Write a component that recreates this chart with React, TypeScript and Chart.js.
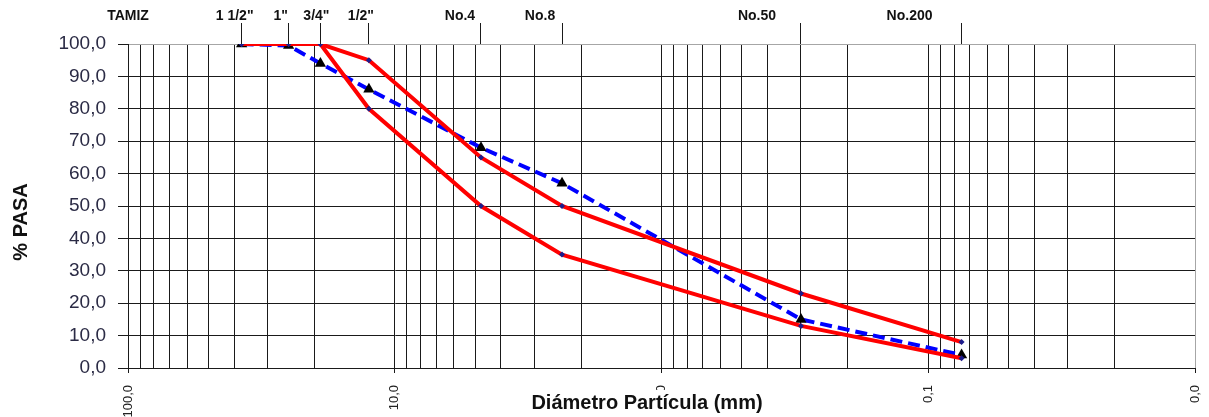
import React, { useEffect, useRef } from 'react';
import { Chart, registerables } from 'chart.js';

Chart.register(...registerables);

// ---- data ----
const SIEVE_NAMES = ['1 1/2"', '1"', '3/4"', '1/2"', 'No.4', 'No.8', 'No.50', 'No.200'];
const SIEVE_MM = [37.5, 25, 19, 12.5, 4.75, 2.36, 0.3, 0.075];
const UPPER_LIMIT = [100, 100, 100, 95, 65, 50, 23, 8];
const LOWER_LIMIT = [100, 100, 100, 80, 50, 35, 13, 3];
const SAMPLE = [100, 99.5, 94, 86, 68, 57, 15, 4];
const X_DECADES = [0.01, 0.1, 1, 10];
const X_MULTIPLIERS = [1, 2, 3, 4, 5, 6, 7, 8, 9];
const X_MAJOR = [100, 10, 1, 0.1, 0.01];
const Y_TICKS = [0, 10, 20, 30, 40, 50, 60, 70, 80, 90, 100];
const X_TITLE = 'Diámetro Partícula (mm)';
const Y_TITLE = '% PASA';
const TOP_TITLE = 'TAMIZ';

const FONT = '"Liberation Sans", Arial, Helvetica, sans-serif';
const LABEL_SHIFT = [-7, -8, -4, -8, -21, -22, -44, -52];
const GRID = '#1a1a1a';

const X_GRID: number[] = [];
X_DECADES.forEach((d) => X_MULTIPLIERS.forEach((m) => X_GRID.push(Math.round(d * m * 1000) / 1000)));
X_GRID.push(100);

const isMajor = (v: number) => X_MAJOR.some((m) => Math.abs(m - v) < 1e-9);
const fmt = (v: number) => v.toFixed(1).replace('.', ',');

const toPts = (vals: number[]) => SIEVE_MM.map((x, i) => ({ x, y: vals[i] }));

const overlay = {
  id: 'overlay',
  afterDraw(chart: any) {
    const ctx = chart.ctx;
    const top = chart.scales.x2;
    const area = chart.chartArea;
    ctx.save();
    ctx.fillStyle = '#111';
    ctx.textAlign = 'center';
    ctx.textBaseline = 'middle';
    ctx.font = `bold 14px ${FONT}`;
    ctx.fillText(TOP_TITLE, area.left, 16);
    SIEVE_NAMES.forEach((n, i) => {
      ctx.fillText(n, top.getPixelForValue(SIEVE_MM[i]) + LABEL_SHIFT[i], 16);
    });
    // y title
    ctx.save();
    ctx.translate(21, 222);
    ctx.rotate(-Math.PI / 2);
    ctx.font = `bold 20px ${FONT}`;
    ctx.fillText(Y_TITLE, 0, 0);
    ctx.restore();
    // x title
    ctx.font = `bold 20px ${FONT}`;
    const w = ctx.measureText(X_TITLE).width;
    ctx.fillStyle = '#ffffff';
    ctx.fillRect(647 - w / 2 - 4, 390, w + 8, 27);
    ctx.fillStyle = '#111';
    ctx.fillText(X_TITLE, 647, 403);
    ctx.restore();
  },
};

export default function App() {
  const ref = useRef<HTMLCanvasElement | null>(null);
  useEffect(() => {
    document.body.style.margin = '0';
    const canvas = ref.current!;
    const chart = new Chart(canvas, {
      type: 'scatter',
      data: {
        datasets: [
          {
            label: 'Límite superior',
            data: toPts(UPPER_LIMIT),
            showLine: true,
            borderColor: '#ff0000',
            borderWidth: 4,
            pointStyle: 'rectRot',
            pointRadius: 3,
            pointBackgroundColor: '#1c1c8c',
            pointBorderColor: '#1c1c8c',
            pointBorderWidth: 0,
          },
          {
            label: 'Límite inferior',
            data: toPts(LOWER_LIMIT),
            showLine: true,
            borderColor: '#ff0000',
            borderWidth: 4,
            pointStyle: 'rectRot',
            pointRadius: 3,
            pointBackgroundColor: '#1c1c8c',
            pointBorderColor: '#1c1c8c',
            pointBorderWidth: 0,
          },
          {
            label: 'Muestra',
            data: toPts(SAMPLE),
            showLine: true,
            borderColor: '#0000ff',
            borderWidth: 4,
            borderDash: [12, 6],
            pointStyle: 'triangle',
            pointRadius: 6.5,
            pointBackgroundColor: '#000',
            pointBorderColor: '#000',
            pointBorderWidth: 0,
          },
        ],
      },
      options: {
        animation: false,
        responsive: false,
        devicePixelRatio: 1,
        layout: { padding: { left: 0, right: 14, top: 0, bottom: 0 } },
        plugins: { legend: { display: false }, tooltip: { enabled: false } },
        scales: {
          x: {
            type: 'logarithmic',
            position: 'bottom',
            reverse: true,
            min: 0.01,
            max: 100,
            afterBuildTicks: (s: any) => {
              s.ticks = X_GRID.map((v) => ({ value: v, major: isMajor(v) }));
            },
            afterFit: (s: any) => {
              s.height = 49;
            },
            ticks: {
              autoSkip: false,
              minRotation: 90,
              maxRotation: 90,
              padding: 12,
              color: '#222',
              font: { family: FONT, size: 13 },
              callback: (v: any) => (isMajor(Number(v)) ? fmt(Number(v)) : ''),
            },
            grid: {
              color: (c: any) => (c.tick && Math.abs(c.tick.value - 0.01) < 1e-9 ? '#a6a6a6' : GRID),
              tickColor: (c: any) => (c.tick && isMajor(c.tick.value) ? GRID : 'rgba(0,0,0,0)'),
              tickLength: 5,
              lineWidth: 1,
            },
            border: { color: GRID, width: 1 },
          },
          x2: {
            type: 'logarithmic',
            position: 'top',
            reverse: true,
            min: 0.01,
            max: 100,
            afterBuildTicks: (s: any) => {
              s.ticks = SIEVE_MM.map((v) => ({ value: v }));
            },
            afterFit: (s: any) => {
              s.height = 44;
            },
            ticks: { display: false },
            grid: {
              drawOnChartArea: false,
              drawTicks: true,
              tickLength: 21,
              tickColor: GRID,
              color: GRID,
            },
            border: { display: false },
          },
          y: {
            type: 'linear',
            min: 0,
            max: 100,
            afterBuildTicks: (s: any) => {
              s.ticks = Y_TICKS.map((v) => ({ value: v }));
            },
            afterFit: (s: any) => {
              s.width = 128;
            },
            ticks: {
              padding: 12,
              color: '#2b2b45',
              font: { family: FONT, size: 19 },
              callback: (v: any) => fmt(Number(v)),
            },
            grid: {
              color: (c: any) => (c.tick && c.tick.value === 100 ? '#a6a6a6' : GRID),
              tickColor: GRID,
              tickLength: 10,
              lineWidth: 1,
            },
            border: { color: GRID, width: 1 },
          },
        },
      },
      plugins: [overlay],
    } as any);
    return () => chart.destroy();
  }, []);
  return <canvas ref={ref} width={1209} height={417} style={{ display: 'block' }} />;
}
